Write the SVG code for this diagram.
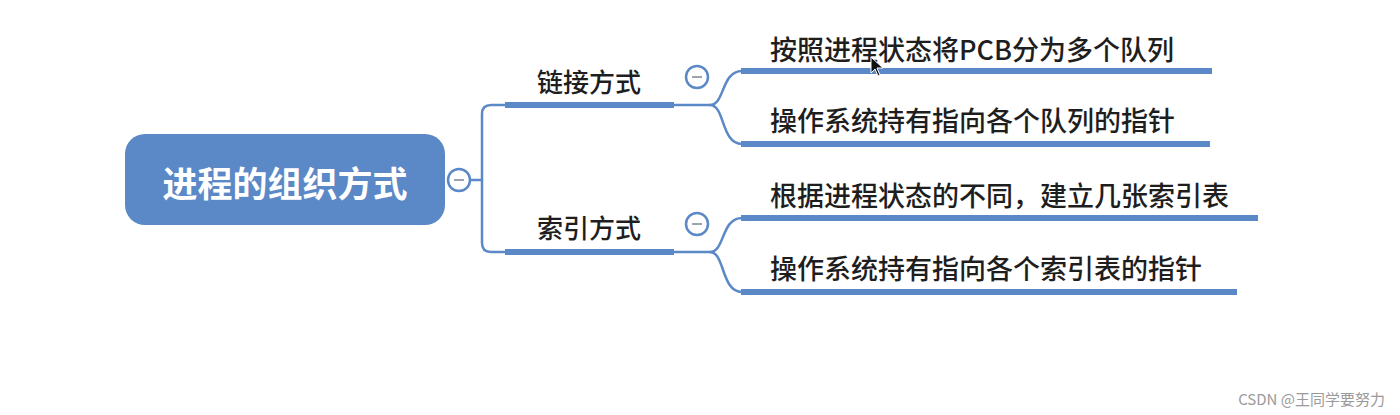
<svg xmlns="http://www.w3.org/2000/svg" width="1400" height="415" viewBox="0 0 1400 415">
<style>
.bg{fill:#ffffff}
.conn{fill:none;stroke:#5b88c6;stroke-width:2.5;stroke-linecap:round}
.bar{fill:none;stroke:#5b88c6;stroke-width:6;stroke-linecap:butt}
.btn{fill:#ffffff;stroke:#5b88c6;stroke-width:2.5}
.minus{stroke:#9aa3ae;stroke-width:2}
.root{fill:#5b88c6}
.rt{font-family:"Noto Sans CJK SC","Noto Sans",sans-serif;font-weight:700;font-size:35px;fill:#ffffff}
.t1{font-family:"Noto Sans CJK SC","Noto Sans",sans-serif;font-weight:500;font-size:26px;fill:#1e1e1e}
.t2{font-family:"Noto Sans CJK SC","Noto Sans",sans-serif;font-weight:500;font-size:27px;fill:#1e1e1e}
.wm{font-family:"Noto Sans CJK SC","Noto Sans",sans-serif;font-size:15px;fill:#9a9a9a}
</style>
<rect class="bg" x="0" y="0" width="1400" height="415"/>

<g id="connectors">
  <path class="conn" d="M470,180 H482"/>
  <path class="conn" d="M505,105 H491 Q482,105 482,114 V243 Q482,252 491,252 H505"/>
  <path class="conn" d="M673,105 H710 C725,105 721,71 742,71"/>
  <path class="conn" d="M710,105 C725,105 721,144 742,144"/>
  <path class="conn" d="M673,252 H710 C725,252 721,218 742,218"/>
  <path class="conn" d="M710,252 C725,252 721,292 742,292"/>
</g>

<g id="root">
  <rect class="root" x="125" y="134" width="320" height="91" rx="20" ry="20"/>
  <text class="rt" x="285" y="181" text-anchor="middle" dominant-baseline="central">进程的组织方式</text>
  <circle class="btn" cx="459" cy="180" r="11"/>
  <line class="minus" x1="454" y1="180" x2="464" y2="180"/>
</g>

<g id="n-link">
  <line class="bar" x1="505" y1="105" x2="674" y2="105"/>
  <text class="t1" x="589" y="80" text-anchor="middle" dominant-baseline="central">链接方式</text>
  <circle class="btn" cx="697" cy="77" r="11"/>
  <line class="minus" x1="692" y1="77" x2="702" y2="77"/>
</g>

<g id="n-index">
  <line class="bar" x1="505" y1="252" x2="674" y2="252"/>
  <text class="t1" x="589" y="226" text-anchor="middle" dominant-baseline="central">索引方式</text>
  <circle class="btn" cx="697" cy="224" r="11"/>
  <line class="minus" x1="692" y1="224" x2="702" y2="224"/>
</g>

<g id="n-link-1">
  <line class="bar" x1="741" y1="71" x2="1212" y2="71"/>
  <text class="t2" x="770" y="48" dominant-baseline="central">按照进程状态将PCB分为多个队列</text>
</g>

<g id="n-link-2">
  <line class="bar" x1="741" y1="144" x2="1210" y2="144"/>
  <text class="t2" x="770" y="119" dominant-baseline="central">操作系统持有指向各个队列的指针</text>
</g>

<g id="n-index-1">
  <line class="bar" x1="741" y1="218" x2="1258" y2="218"/>
  <text class="t2" x="770" y="194" dominant-baseline="central">根据进程状态的不同，建立几张索引表</text>
</g>

<g id="n-index-2">
  <line class="bar" x1="741" y1="292" x2="1237" y2="292"/>
  <text class="t2" x="770" y="267" dominant-baseline="central">操作系统持有指向各个索引表的指针</text>
</g>

<polygon points="871,57 871,73 875,69 878,76 880,75 877,68 883,68" fill="#111111" stroke="#ffffff" stroke-width="1"/>

<text class="wm" x="1385" y="405" text-anchor="end">CSDN @王同学要努力</text>
</svg>
